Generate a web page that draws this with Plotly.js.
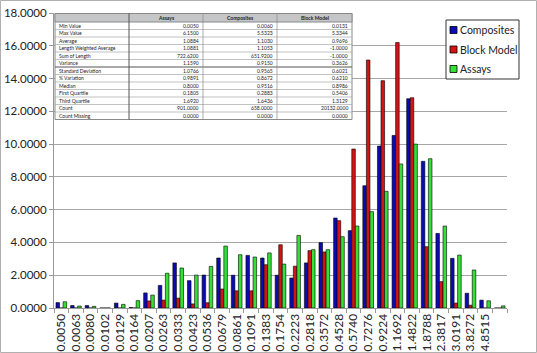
<!DOCTYPE html>
<html>
<head>
<meta charset="utf-8">
<script src="https://cdn.plot.ly/plotly-3.0.1.min.js"></script>
<style>html,body{margin:0;padding:0;background:#fff;}#chart{width:537px;height:353px;}</style>
</head>
<body>
<div id="chart"></div>
<script>
// Bin labels (last bin unlabeled)
const binLabels = ["0.0050","0.0063","0.0080","0.0102","0.0129","0.0164","0.0207","0.0263","0.0333","0.0423",
  "0.0536","0.0679","0.0861","0.1091","0.1383","0.1754","0.2223","0.2818","0.3572","0.4528",
  "0.5740","0.7276","0.9224","1.1692","1.4822","1.8788","2.3817","3.0191","3.8272","4.8515",""];
const composites = [0.33,0.15,0.15,0,0.30,0.03,0.92,1.38,2.75,1.67,
  2.01,3.05,2.00,3.21,3.05,2.00,1.83,2.75,3.99,5.49,
  4.72,7.46,9.88,10.53,12.77,8.95,4.55,3.03,0.90,0.48,0];
const blockModel = [0,0,0,0,0,0,0.43,0.48,0.60,0.25,
  0.32,1.16,1.05,1.05,2.64,3.86,2.55,3.50,3.42,5.33,
  9.70,15.13,13.87,16.20,12.83,3.74,1.61,0.30,0.17,0,0];
const assays = [0.38,0.12,0.10,0,0.22,0.45,0.79,2.12,2.44,2.01,
  2.54,3.78,3.25,3.11,3.36,2.68,4.43,3.56,3.56,4.35,
  5.00,5.88,7.12,8.79,10.00,9.11,5.00,3.23,2.32,0.44,0.13];

// Statistics table
const statNames = ["Min Value","Max Value","Average","Length Weighted Average","Sum of Length","Variance",
  "Standard Deviation","% Variation","Median","First Quartile","Third Quartile","Count","Count Missing"];
const statAssays = ["0.0050","6.1500","1.0884","1.0881","722.6200","1.1590","1.0766","0.9891","0.8000","0.1805","1.6920","901.0000","0.0000"];
const statComposites = ["0.0060","5.5323","1.1030","1.1053","651.9200","0.9150","0.9565","0.8672","0.9516","0.2883","1.6436","658.0000","0.0000"];
const statBlockModel = ["0.0131","5.3344","0.9696","-1.0000","-1.0000","0.3626","0.6021","0.6210","0.8986","0.5406","1.3129","20132.0000","0.0000"];
const tableHeader = ["","Assays","Composites","Block Model"];

const idx = binLabels.map((_, i) => i);
const FONT = "Lato, 'Open Sans', sans-serif";
const barLine = {color: "#000", width: 0.6};

const traces = [
  {type: "bar", name: "Composites", x: idx, y: composites, marker: {color: "#0b0bb4", line: barLine}},
  {type: "bar", name: "Block Model", x: idx, y: blockModel, marker: {color: "#d41414", line: barLine}},
  {type: "bar", name: "Assays", x: idx, y: assays, marker: {color: "#35e035", line: barLine}}
];

// ---- plot area geometry (px) used to place the inset table & legend ----
const ML = 54, MT = 13, PW = 453, PH = 295;
const px = v => (v - ML) / PW;
const py = v => (MT + PH - v) / PH;

const colEdges = [55, 129, 203, 277, 352];
const tableTop = 13.5, headH = 8.5, rowH = 7.5;
const shapes = [];
const annotations = [];

shapes.push({type: "rect", xref: "paper", yref: "paper", x0: px(colEdges[0]), x1: px(colEdges[4]),
  y0: py(tableTop + headH + rowH * statNames.length), y1: py(tableTop),
  fillcolor: "#fff", line: {color: "#8a8a8a", width: 1}, layer: "above"});
shapes.push({type: "rect", xref: "paper", yref: "paper", x0: px(colEdges[0]), x1: px(colEdges[4]),
  y0: py(tableTop + headH), y1: py(tableTop),
  fillcolor: "#c4c6c8", line: {color: "#8a8a8a", width: 1}, layer: "above"});
for (let r = 1; r < statNames.length; r++) {
  const yy = tableTop + headH + rowH * r;
  shapes.push({type: "line", xref: "paper", yref: "paper", x0: px(colEdges[0]), x1: px(colEdges[4]),
    y0: py(yy), y1: py(yy), line: {color: r === 6 ? "#555" : "#a8a8a8", width: r === 6 ? 1 : 0.7}, layer: "above"});
}
for (let c = 1; c < 4; c++) {
  shapes.push({type: "line", xref: "paper", yref: "paper", x0: px(colEdges[c]), x1: px(colEdges[c]),
    y0: py(tableTop + headH + rowH * statNames.length), y1: py(tableTop),
    line: {color: c === 1 ? "#555" : "#8a8a8a", width: c === 1 ? 1 : 0.7}, layer: "above"});
}
tableHeader.forEach((h, c) => {
  if (!h) return;
  annotations.push({xref: "paper", yref: "paper", x: px((colEdges[c] + colEdges[c + 1]) / 2),
    y: py(tableTop + headH / 2), text: "<b>" + h + "</b>", showarrow: false,
    xanchor: "center", yanchor: "middle", font: {family: FONT, size: 5, color: "#222"}});
});
const bodyCols = [statNames, statAssays, statComposites, statBlockModel];
bodyCols.forEach((col, c) => {
  col.forEach((t, r) => {
    const yy = tableTop + headH + rowH * r + rowH / 2;
    annotations.push({xref: "paper", yref: "paper",
      x: c === 0 ? px(colEdges[0] + 2) : px(colEdges[c + 1] - 2), y: py(yy),
      text: t, showarrow: false, xanchor: c === 0 ? "left" : "right", yanchor: "middle",
      font: {family: FONT, size: 5, color: "#222"}});
  });
});

// ---- legend box (built from the trace names/colours) ----
const legL = 446, legR = 519, legT = 20, legB = 79;
shapes.push({type: "rect", xref: "paper", yref: "paper", x0: px(legL), x1: px(legR), y0: py(legB), y1: py(legT),
  fillcolor: "#fff", line: {color: "#333", width: 1}, layer: "above"});
traces.forEach((t, i) => {
  const cy = 30 + i * 19.5;
  shapes.push({type: "rect", xref: "paper", yref: "paper", x0: px(450), x1: px(457), y0: py(cy + 3.5), y1: py(cy - 3.5),
    fillcolor: t.marker.color, line: {color: "#000", width: 0.8}, layer: "above"});
  annotations.push({xref: "paper", yref: "paper", x: px(458), y: py(cy), text: t.name, showarrow: false,
    xanchor: "left", yanchor: "middle", font: {family: FONT, size: 10.5, color: "#222"}});
});

// outer frame
shapes.push({type: "rect", xref: "paper", yref: "paper",
  x0: px(0.5), x1: px(536.5), y0: py(352.5), y1: py(0.5),
  line: {color: "#b0b0b0", width: 1}, fillcolor: "rgba(0,0,0,0)", layer: "below"});

const layout = {
  width: 537, height: 353,
  margin: {l: ML, r: 537 - ML - PW, t: MT, b: 353 - MT - PH},
  paper_bgcolor: "#fff", plot_bgcolor: "#fff",
  font: {family: FONT, color: "#222"},
  barmode: "group", bargap: 0.27, bargroupgap: 0,
  showlegend: false,
  xaxis: {range: [-0.5, 30.5], tickmode: "array", tickvals: idx, ticktext: binLabels,
          tickangle: -90, ticks: "", showgrid: false, zeroline: false,
          showline: true, linecolor: "#999", linewidth: 1,
          tickfont: {family: FONT, size: 12, color: "#222"},
          minor: {tick0: -0.5, dtick: 1, ticks: "outside", ticklen: 4, tickcolor: "#999", showgrid: false}},
  yaxis: {range: [0, 18], dtick: 2, tickformat: ".4f", showgrid: true, gridcolor: "#a6a6a6", gridwidth: 1,
          zeroline: false, showline: true, linecolor: "#999", linewidth: 1,
          ticks: "outside", ticklen: 4, tickcolor: "#999",
          tickfont: {family: FONT, size: 11.5, color: "#222"}},
  shapes: shapes,
  annotations: annotations
};

Plotly.newPlot("chart", traces, layout, {displayModeBar: false, staticPlot: true});
</script>
</body>
</html>
